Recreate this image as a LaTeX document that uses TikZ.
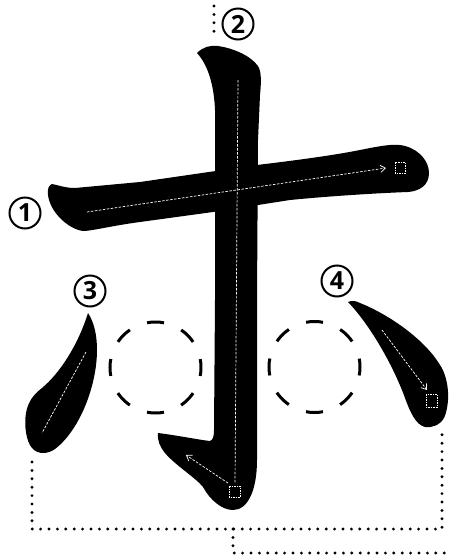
\documentclass[tikz,border=0pt]{standalone}
\usepackage{fontspec}
\setmainfont{Open Sans}
\usetikzlibrary{arrows.meta}
\begin{document}
\begin{tikzpicture}[x=1pt,y=-1pt,
  stroke/.style={fill=black,draw=none},
  guide/.style={white,line width=0.7pt,dash pattern=on 2.5pt off 1.5pt},
  gtip/.style={-{Straight Barb[length=5pt,width=7pt,line width=0.7pt]}},
  gsq/.style={white,line width=0.6pt,dash pattern=on 1.5pt off 1pt},
  dcirc/.style={line width=3pt,dash pattern=on 17pt off 18.736pt,dash phase=8.5pt},
  dotline/.style={line width=3.2pt,dash pattern=on 0pt off 8.4pt,line cap=round},
  num/.style={circle,draw,line width=2pt,minimum size=31pt,inner sep=0pt,
    font=\fontsize{25}{25}\selectfont\bfseries}]
\useasboundingbox (0,0) rectangle (449,555);
% horizontal stroke 1
\path[stroke] (52,184) .. controls (58,185) and (65,188) .. (75,188)
  -- (140,182) -- (257,165)
  .. controls (290,161) and (330,156) .. (360,150)
  .. controls (380,146) and (395,143) .. (405,146)
  .. controls (420,150) and (429,162) .. (429,173)
  .. controls (429,185) and (420,191) .. (408,192)
  .. controls (380,193) and (330,196) .. (290,200)
  -- (213,212) -- (140,222)
  .. controls (110,226) and (92,231) .. (83,231)
  .. controls (68,229) and (50,212) .. (48,195)
  .. controls (47,189) and (49,185) .. (52,184) -- cycle;
% vertical hook stroke 2
\path[stroke] (197,53) .. controls (203,47) and (210,45) .. (218,46)
  .. controls (232,48) and (250,55) .. (258,66)
  .. controls (262,72) and (261,85) .. (260,95)
  -- (258,140) -- (257,300) -- (257,460)
  .. controls (257,490) and (248,510) .. (233,510)
  .. controls (222,510) and (210,500) .. (203,487)
  .. controls (196,478) and (175,465) .. (165,453)
  .. controls (160,447) and (157,440) .. (158,433)
  .. controls (175,435) and (200,440) .. (210,441)
  .. controls (213,440) and (214,436) .. (214,430)
  -- (215,300) -- (215,110)
  .. controls (214,85) and (208,65) .. (197,53) -- cycle;
% stroke 3
\path[stroke] (88,313) .. controls (94,322) and (97,335) .. (97,350)
  .. controls (97,385) and (80,430) .. (55,449)
  .. controls (48,454) and (38,455) .. (32,448)
  .. controls (26,441) and (24,425) .. (26,413)
  .. controls (28,402) and (33,395) .. (42,388)
  .. controls (60,373) and (78,345) .. (88,313) -- cycle;
% stroke 4
\path[stroke] (348,302) .. controls (352,300) and (356,301) .. (360,303)
  .. controls (390,315) and (425,340) .. (440,365)
  .. controls (450,380) and (450,405) .. (444,418)
  .. controls (440,425) and (432,428) .. (425,427)
  .. controls (416,425) and (410,412) .. (405,398)
  .. controls (393,365) and (370,325) .. (348,302) -- cycle;
% guide lines
\draw[guide,gtip] (87,212) -- (386,168);
\draw[gsq] (395,162) rectangle (405,173);
\draw[guide] (238,80) -- (235,484);
\draw[gsq] (229,486) rectangle (240,497);
\draw[guide,gtip] (228,483) -- (186,455);
\draw[guide] (86,352) -- (42,433);
\draw[guide,gtip] (382,330) -- (427,390);
\draw[gsq] (426,394) rectangle (437,407);
% dashed circles
\draw[dcirc] (155.5,367.5) circle[radius=45.5];
\draw[dcirc] (314.5,367) circle[radius=45.5];
% labels
\node[num] (n1) at (25,213) {1};
\node[num] (n2) at (238,24) {2};
\node[num] (n3) at (90,291) {3};
\node[num] (n4) at (337,281) {4};
% dotted frame
\coordinate (t1) at (214,6);
\coordinate (t2) at (214,34);
\coordinate (fl) at (32,462);
\coordinate (fbl) at (32,529);
\coordinate (fbr) at (442,529);
\coordinate (fr) at (442,431);
\coordinate (fm) at (233,529);
\coordinate (fmb) at (233,553);
\coordinate (fe) at (449,553);
\draw[dotline] (t1) -- (t2);
\draw[dotline] (fl) -- (fbl) -- (fbr) -- (fr);
\draw[dotline] (fm) -- (fmb) -- (fe);
\end{tikzpicture}
\end{document}
